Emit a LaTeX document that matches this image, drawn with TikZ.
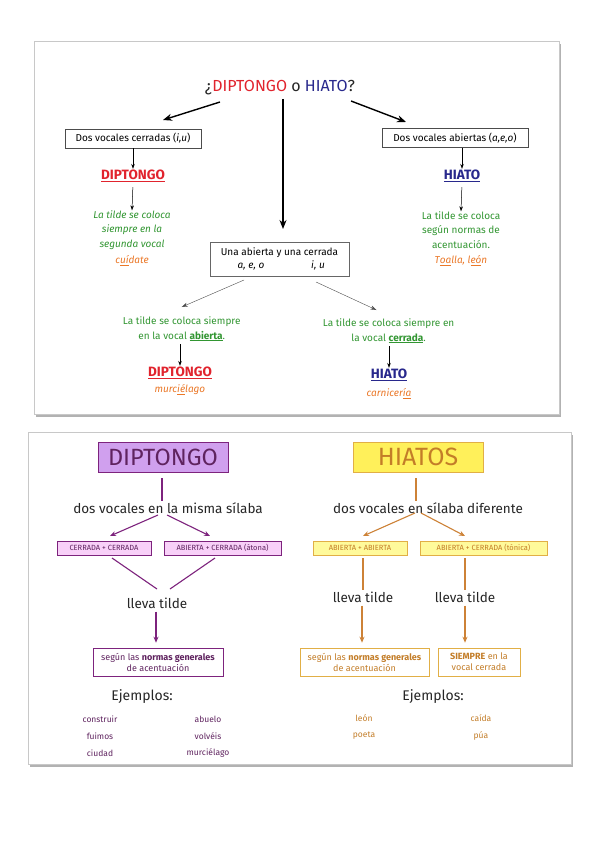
\documentclass[tikz,border=0pt]{standalone}
\usepackage{fontspec}
\setmainfont{Fira Sans}
\usetikzlibrary{arrows.meta}
\definecolor{tred}{RGB}{225,35,45}
\definecolor{tblue}{RGB}{40,40,140}
\definecolor{tgreen}{RGB}{50,150,50}
\definecolor{torange}{RGB}{235,120,40}
\definecolor{pline}{RGB}{125,35,125}
\definecolor{pfillbig}{RGB}{208,160,238}
\definecolor{pfillsm}{RGB}{248,208,248}
\definecolor{ptext}{RGB}{95,35,95}
\definecolor{yfillbig}{RGB}{255,240,90}
\definecolor{yborder}{RGB}{225,175,70}
\definecolor{ytext}{RGB}{195,125,40}
\definecolor{yfillsm}{RGB}{255,250,155}
\definecolor{oline}{RGB}{205,130,55}
\definecolor{frameg}{RGB}{200,200,200}
\newcommand{\fs}[2]{\fontsize{#1}{#2}\selectfont}
\tikzset{
  panel/.style={draw=frameg, fill=white, line width=0.6pt},
  shadowbox/.style={fill=black!30},
  sbox/.style={draw=black!70, line width=0.5pt, fill=white, inner sep=1pt, minimum height=19pt, font=\fs{10}{12}},
  bigarrow/.style={line width=1.4pt, -{Stealth[length=9pt,width=7pt]}},
  smarrow/.style={line width=0.5pt, -{Stealth[length=5pt,width=3.5pt]}},
  thinarrow/.style={line width=0.4pt, draw=black!70, -{Stealth[length=6pt,width=4pt]}},
  gtext/.style={text=tgreen, align=center, font=\fs{10}{14.5}, inner sep=0pt},
  redt/.style={text=tred, font=\bfseries\fs{13.5}{15}, inner sep=1pt},
  bluet/.style={text=tblue, font=\bfseries\fs{13.5}{15}, inner sep=1pt},
  orgt/.style={text=torange, font=\itshape\fs{10}{12}, inner sep=0pt},
  bigP/.style={draw=pline, fill=pfillbig, line width=0.7pt, minimum width=130pt, minimum height=30pt, text=ptext, font=\fs{23.5}{25}},
  bigY/.style={draw=yborder, fill=yfillbig, line width=0.7pt, minimum width=130pt, minimum height=30pt, text=ytext, font=\fs{25}{26}},
  midt/.style={text=black!85, font=\fs{13.5}{15}, inner sep=1pt},
  psm/.style={draw=pline, fill=pfillsm, line width=0.5pt, minimum height=14pt, text=ptext, font=\fs{7.5}{8}, inner sep=1pt},
  ysm/.style={draw=yborder, fill=yfillsm, line width=0.5pt, minimum height=14pt, text=ytext, font=\fs{7.5}{8}, inner sep=1pt},
  pbox/.style={draw=pline, fill=white, line width=0.6pt, minimum height=28pt, text=ptext, font=\fs{9}{11}, align=center, inner sep=1pt},
  ybox/.style={draw=yborder, fill=white, line width=0.6pt, minimum height=28pt, text=ytext, font=\fs{9}{11}, align=center, inner sep=1pt},
  parr/.style={draw=pline, line width=1.1pt, -{Stealth[length=6pt,width=5pt]}},
  pln/.style={draw=pline, line width=1.1pt},
  oarr/.style={draw=oline, line width=1.1pt, -{Stealth[length=6pt,width=5pt]}},
  oln/.style={draw=oline, line width=1.1pt},
  ejt/.style={text=black!85, font=\fs{14}{15}, inner sep=0pt},
  pex/.style={text=ptext, font=\fs{8.5}{9}, inner sep=0pt},
  yex/.style={text=ytext, font=\fs{8.5}{9}, inner sep=0pt}
}
\begin{document}
\begin{tikzpicture}[x=1pt,y=-1pt]
\useasboundingbox (0,0) rectangle (599,848);
\fill[white] (0,0) rectangle (599,848);
% panels
\fill[shadowbox] (36,44) rectangle (561,417);
\draw[panel] (34,41) rectangle (559,414);
\fill[shadowbox] (30,435) rectangle (573,767);
\draw[panel] (28,432) rectangle (571,764);

% ---------- TOP ----------
\node[font=\fs{16}{18}, text=black!85, inner sep=1pt] (title) at (280,88)
  {¿{\color{tred}DIPTONGO} o {\color{tblue}HIATO}?};
\node[sbox, minimum width=136pt] (lbox) at (133,138.5) {Dos vocales cerradas (\textit{i,u})};
\node[sbox, minimum width=146pt] (rbox) at (455,138) {Dos vocales abiertas (\textit{a,e,o})};
\coordinate (la0) at (220,102);
\coordinate (la1) at (163,120);
\coordinate (ra0) at (351,101);
\coordinate (ra1) at (406,122);
\coordinate (ca0) at (283,99);
\coordinate (ca1) at (283,229);
\draw[bigarrow] (la0) -- (la1);
\draw[bigarrow] (ra0) -- (ra1);
\draw[bigarrow] (ca0) -- (ca1);

\node[redt] (d1) at (133,176) {\underline{DIPTONGO}};
\node[bluet] (h1) at (462,176) {\underline{HIATO}};
\draw[smarrow] (lbox.south -| d1.north) -- (d1.north);
\draw[smarrow] (rbox.south -| h1.north) -- (h1.north);

\node[gtext, font=\itshape\fs{10}{14.5}] (g1) at (132,230) {La tilde se coloca\\ siempre en la\\ segunda vocal};
\node[orgt] (o1) at (132,260.5) {c\underline{uí}date};
\node[gtext] (g2) at (461,230) {La tilde se coloca\\ según normas de\\ acentuación.};
\node[orgt] (o2) at (461,260.5) {T\underline{oa}lla, l\underline{eó}n};
\draw[smarrow, shorten <=4pt] (d1.south) -- (g1.north);
\draw[smarrow, shorten <=4pt] (h1.south) -- (g2.north);

\node[draw=black!60, line width=0.6pt, fill=white, minimum width=139pt, minimum height=34pt, align=center, font=\fs{10}{13}, inner sep=1pt] (cbox) at (279.5,259)
  {Una abierta y una cerrada\\ \makebox[40pt]{\textit{a, e, o}}\hspace{37pt}\makebox[20pt]{\textit{i, u}}};

\coordinate (tl0) at (244,280);
\coordinate (tl1) at (181.7,307);
\coordinate (tr0) at (316,282);
\coordinate (tr1) at (376.5,310);
\draw[thinarrow] (tl0) -- (tl1);
\draw[thinarrow] (tr0) -- (tr1);

\node[gtext] (g3) at (181.7,329) {La tilde se coloca siempre\\ en la vocal \textbf{\underline{abierta}}.};
\node[gtext] (g4) at (388.6,331) {La tilde se coloca siempre en\\ la vocal \textbf{\underline{cerrada}}.};
\node[redt] (d2) at (180,373) {\underline{DIPTONGO}};
\node[orgt] (o3) at (180,390) {murc\underline{ié}lago};
\node[bluet] (h2) at (389,375) {\underline{HIATO}};
\node[orgt] (o4) at (389,394) {carnicer\underline{ía}};
\draw[smarrow, shorten <=3pt] (g3.south -| d2.north) -- (d2.north);
\draw[smarrow, shorten <=3pt] (g4.south -| h2.north) -- (h2.north);

% ---------- BOTTOM ----------
\node[bigP] (bd) at (163,457) {DIPTONGO};
\node[bigY] (bh) at (418,457) {HIATOS};
\node[midt] (ms) at (168,508) {dos vocales en la misma sílaba};
\node[midt] (sd) at (428,508) {dos vocales en sílaba diferente};
\draw[pln, shorten <=6pt] (bd.south -| 162,0) -- (ms.north -| 162,0);
\draw[oln, shorten <=6pt] (bh.south -| 416,0) -- (sd.north -| 416,0);

\node[psm, minimum width=94pt] (pb1) at (104,548) {CERRADA + CERRADA};
\node[psm, minimum width=117pt] (pb2) at (222.5,548) {ABIERTA + CERRADA (átona)};
\node[ysm, minimum width=94pt] (yb1) at (360,548) {ABIERTA + ABIERTA};
\node[ysm, minimum width=127pt] (yb2) at (483.5,548) {ABIERTA + CERRADA (tónica)};

\coordinate (pa1) at (158,515);
\coordinate (pa2) at (167,515);
\coordinate (pt1) at (110,536);
\coordinate (pt2) at (210,536);
\draw[parr] (pa1) -- (pt1);
\draw[parr] (pa2) -- (pt2);
\coordinate (ya1) at (415,513);
\coordinate (ya2) at (421,513);
\coordinate (yt1) at (363,536);
\coordinate (yt2) at (465,536);
\draw[oarr] (ya1) -- (yt1);
\draw[oarr] (ya2) -- (yt2);

\node[midt] (plt) at (157,603) {lleva tilde};
\node[midt] (ylt1) at (363,597) {lleva tilde};
\node[midt] (ylt2) at (465,597) {lleva tilde};
\coordinate (pj1) at (157,589);
\coordinate (pj2) at (170,589);
\coordinate (pl1) at (112,558);
\coordinate (pl2) at (215,558);
\draw[pln] (pl1) -- (pj1);
\draw[pln] (pl2) -- (pj2);
\draw[oln, shorten <=3pt] (yb1.south -| ylt1.north) -- (ylt1.north);
\draw[oln, shorten <=3pt] (yb2.south -| ylt2.north) -- (ylt2.north);

\node[pbox, minimum width=130pt] (pn) at (158,662) {según las \textbf{normas generales}\\ de acentuación};
\node[ybox, minimum width=129pt] (yn) at (364.5,662) {según las \textbf{normas generales}\\ de acentuación};
\node[ybox, minimum width=82pt] (ys) at (479,662) {\textbf{SIEMPRE} en la\\ vocal cerrada};
\draw[parr, shorten <=2pt, shorten >=5pt] (plt.south -| 156,0) -- (pn.north -| 156,0);
\draw[oarr, shorten <=2pt, shorten >=5pt] (ylt1.south -| 362,0) -- (yn.north -| 362,0);
\draw[oarr, shorten <=2pt, shorten >=5pt] (ylt2.south) -- (ys.north -| ylt2.south);

\node[ejt] (pe) at (142,697) {Ejemplos:};
\node[ejt] (ye) at (433,697) {Ejemplos:};
\node[pex] (pe1) at (100,719) {construir};
\node[pex] (pe2) at (100,736) {fuimos};
\node[pex] (pe3) at (100,753) {ciudad};
\node[pex] (pe4) at (208,719) {abuelo};
\node[pex] (pe5) at (208,736) {volvéis};
\node[pex] (pe6) at (208,753) {murciélago};
\node[yex] (ye1) at (364,718) {león};
\node[yex] (ye2) at (364,736) {poeta};
\node[yex] (ye3) at (481,718) {caída};
\node[yex] (ye4) at (481,736) {púa};
\end{tikzpicture}
\end{document}
